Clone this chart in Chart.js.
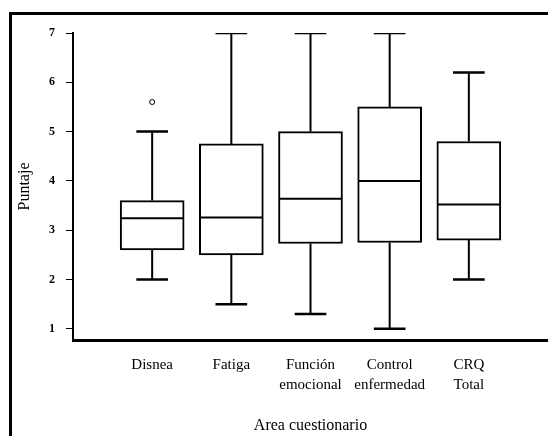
<!DOCTYPE html>
<html>
<head>
<meta charset="utf-8">
<script src="https://cdn.jsdelivr.net/npm/chart.js@4.4.1/dist/chart.umd.min.js"></script>
<style>
    html, body { margin: 0; padding: 0; background: #fff; }
    #wrap { position: relative; width: 548px; height: 436px; overflow: hidden; background: #fff; }
    #frame { position: absolute; left: 9px; top: 12px; width: 600px; height: 500px; border: 3px solid #000; }
    #boxChart { position: absolute; left: 0; top: 0; }
</style>
</head>
<body>
<div id="wrap">
    <div id="frame"></div>
    <canvas id="boxChart" width="548" height="436"></canvas>
</div>
<script>
const categories = ['Disnea', 'Fatiga', ['Función', 'emocional'], ['Control', 'enfermedad'], ['CRQ', 'Total']];
const minValues = [2.0, 1.5, 1.3, 1.0, 2.0];
const q1Values = [2.6, 2.5, 2.73, 2.75, 2.8];
const medianValues = [3.24, 3.26, 3.64, 4.0, 3.52];
const q3Values = [3.6, 4.75, 5.0, 5.5, 4.8];
const maxValues = [5.0, 7.0, 7.0, 7.0, 6.2];
const outlierCategory = [1];
const outlierValues = [5.6];
const yTicks = [1, 2, 3, 4, 5, 6, 7];

const serif = "'Liberation Serif', 'DejaVu Serif', serif";
const capHalf = 0.2;
const boxHalf = 0.4;

// box bodies as floating bars
const boxData = categories.map(function (c, i) {
    return { x: i + 1, y: [q1Values[i], q3Values[i]] };
});

// whisker stems, caps and medians, broken with nulls
const whiskerData = [];
const capData = [];
const medianData = [];
categories.forEach(function (c, i) {
    const x = i + 1;
    whiskerData.push({ x: x, y: q3Values[i] }, { x: x, y: maxValues[i] }, { x: x, y: null });
    whiskerData.push({ x: x, y: q1Values[i] }, { x: x, y: minValues[i] }, { x: x, y: null });
    capData.push({ x: x - capHalf, y: maxValues[i] }, { x: x + capHalf, y: maxValues[i] }, { x: x, y: null });
    capData.push({ x: x - capHalf, y: minValues[i] }, { x: x + capHalf, y: minValues[i] }, { x: x, y: null });
    medianData.push({ x: x - boxHalf, y: medianValues[i] }, { x: x + boxHalf, y: medianValues[i] }, { x: x, y: null });
});

const outlierData = outlierValues.map(function (v, i) {
    return { x: outlierCategory[i], y: v };
});

new Chart(document.getElementById('boxChart'), {
    type: 'bar',
    data: {
        datasets: [{
            type: 'line',
            data: medianData,
            borderColor: '#000',
            borderWidth: 2,
            pointRadius: 0,
            spanGaps: false,
            order: 1
        }, {
            type: 'line',
            data: capData,
            borderColor: '#000',
            borderWidth: 2.5,
            pointRadius: 0,
            spanGaps: false,
            order: 2
        }, {
            type: 'line',
            data: whiskerData,
            borderColor: '#000',
            borderWidth: 2,
            pointRadius: 0,
            spanGaps: false,
            order: 3
        }, {
            type: 'line',
            data: outlierData,
            showLine: false,
            pointRadius: 2.5,
            pointBorderWidth: 1,
            pointBackgroundColor: '#fff',
            pointBorderColor: '#000',
            order: 4
        }, {
            type: 'bar',
            data: boxData,
            backgroundColor: '#fff',
            borderColor: '#000',
            borderWidth: 2,
            borderSkipped: false,
            barThickness: 64,
            order: 5
        }]
    },
    options: {
        responsive: false,
        animation: false,
        layout: { autoPadding: false, padding: { top: 33, left: 0, right: 0, bottom: 0 } },
        plugins: {
            legend: { display: false },
            tooltip: { enabled: false }
        },
        scales: {
            x: {
                type: 'linear',
                min: 0,
                max: 6,
                offset: false,
                grid: { display: false, drawTicks: false },
                border: { display: true, color: '#000', width: 3 },
                afterBuildTicks: function (scale) {
                    scale.ticks = categories.map(function (c, i) {
                        return { value: i + 1 };
                    });
                },
                afterFit: function (scale) {
                    scale.height = 96;
                    scale.paddingLeft = 0;
                    scale.paddingRight = 0;
                },
                ticks: {
                    padding: 15,
                    color: '#000',
                    font: { family: serif, size: 15, lineHeight: 1.33 },
                    maxRotation: 0,
                    autoSkip: false,
                    callback: function (value) {
                        return categories[value - 1];
                    }
                },
                title: {
                    display: true,
                    text: 'Area cuestionario',
                    color: '#000',
                    font: { family: serif, size: 16 },
                    padding: { top: 0, bottom: 1 }
                }
            },
            y: {
                min: 0.773,
                max: 7,
                grid: {
                    drawOnChartArea: false,
                    drawTicks: true,
                    tickLength: 7,
                    color: '#000',
                    lineWidth: 1
                },
                border: { display: true, color: '#000', width: 2 },
                afterBuildTicks: function (scale) {
                    scale.ticks = yTicks.map(function (v) {
                        return { value: v };
                    });
                },
                afterFit: function (scale) {
                    scale.width = 73;
                    scale.paddingTop = 0;
                    scale.paddingBottom = 0;
                },
                ticks: {
                    padding: 11,
                    color: '#000',
                    font: { family: serif, size: 12, weight: 'bold' }
                },
                title: {
                    display: true,
                    text: 'Puntaje',
                    color: '#000',
                    font: { family: serif, size: 16 },
                    padding: { top: 15, bottom: 0 }
                }
            }
        }
    }
});
</script>
</body>
</html>
